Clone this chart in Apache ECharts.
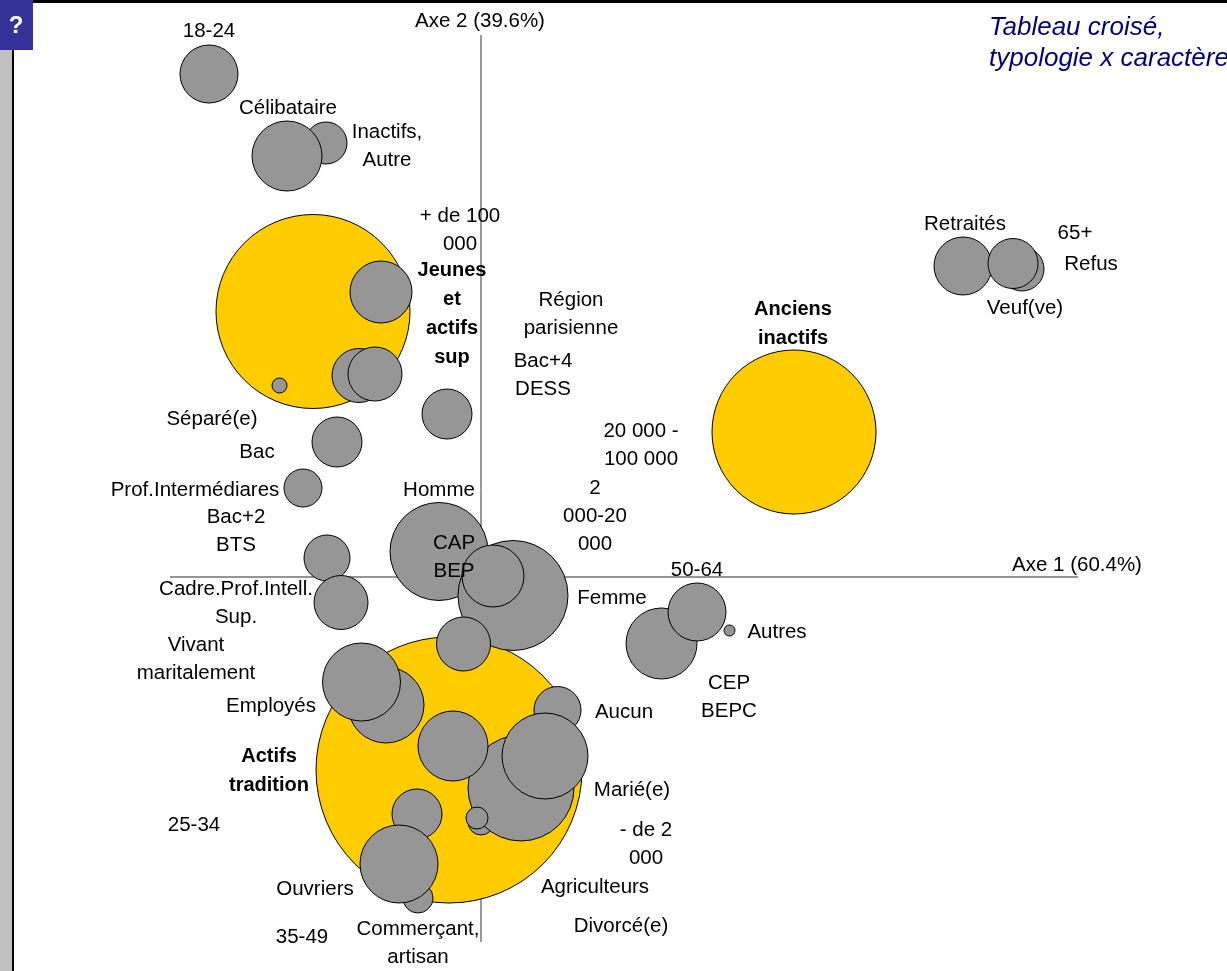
<!DOCTYPE html>
<html>
<head>
<meta charset="utf-8">
<script src="https://cdn.jsdelivr.net/npm/echarts@6/dist/echarts.min.js"></script>
<style>
html, body { margin: 0; padding: 0; background: #fff; }
#chart { width: 1227px; height: 971px; }
</style>
</head>
<body>
<div id="chart"></div>
<script>
// bornes du repère (unités du plan factoriel)
var xMin = -4.81, xMax = 7.46;
var yMin = -3.94, yMax = 5.77;
var axe1Extent = [-3.11, 5.97];
var axe2Extent = [-3.65, 5.42];

// typologie (cercles jaunes) : x, y, rayon
var typeNames = ['Jeunes\net\nactifs\nsup', 'Anciens\ninactifs', 'Actifs\ntradition'];
var typeX = [-1.68, 3.13, -0.32];
var typeY = [2.655, 1.45, -1.93];
var typeR = [0.97, 0.82, 1.33];
var typeLabelX = [-0.29, 3.12, -2.12];
var typeLabelY = [2.63, 2.53, -1.94];

// modalités (cercles gris), dans l'ordre de dessin
var modX = [-2.72, -1.55, -1.94, -1.00, -1.22, -1.06, -2.015, -0.34, -1.44, -1.78, -1.54, -1.40,
            -0.42, 0.32, 0.12, -0.175, 1.805, 2.16, 2.485, 4.82, 5.41, 5.32,
            -0.95, -1.195, 0.765, 0.00, 0.40, 0.64, -0.04, -0.28, -0.64, -0.63, -0.82];
var modY = [5.03, 4.34, 4.21, 2.85, 2.015, 2.03, 1.915, 1.63, 1.35, 0.89, 0.19, -0.255,
            0.255, -0.185, 0.01, -0.67, -0.665, -0.35, -0.535, 3.11, 3.08, 3.135,
            -1.28, -1.05, -1.33, -2.45, -2.11, -1.79, -2.41, -1.69, -2.37, -3.21, -2.87];
var modR = [0.29, 0.21, 0.35, 0.31, 0.27, 0.27, 0.075, 0.25, 0.25, 0.19, 0.23, 0.27,
            0.49, 0.55, 0.31, 0.27, 0.355, 0.29, 0.055, 0.29, 0.22, 0.25,
            0.38, 0.39, 0.235, 0.13, 0.53, 0.43, 0.11, 0.35, 0.25, 0.15, 0.39];

// étiquettes des modalités
var labelNames = ['18-24', 'Célibataire', 'Inactifs,\nAutre', '+ de 100\n000', 'Région\nparisienne',
                  'Bac+4\nDESS', 'Retraités', '65+', 'Refus', 'Veuf(ve)', 'Séparé(e)', 'Bac',
                  '20 000 -\n100 000', 'Prof.Intermédiares', 'Homme', '2\n000-20\n000', 'Bac+2\nBTS',
                  'CAP\nBEP', '50-64', 'Cadre.Prof.Intell.\nSup.', 'Femme', 'Autres',
                  'Vivant\nmaritalement', 'CEP\nBEPC', 'Employés', 'Aucun', 'Marié(e)', '25-34',
                  '- de 2\n000', 'Ouvriers', 'Agriculteurs', '35-49', 'Commerçant,\nartisan', 'Divorcé(e)'];
var labelX = [-2.72, -1.93, -0.94, -0.21, 0.90, 0.62, 4.84, 5.94, 6.10, 5.44, -2.69, -2.24,
              1.60, -2.86, -0.42, 1.14, -2.45, -0.27, 2.16, -2.45, 1.31, 2.96,
              -2.85, 2.48, -2.10, 1.43, 1.51, -2.87, 1.65, -1.66, 1.14, -1.79, -0.63, 1.40];
var labelY = [5.46, 4.69, 4.31, 3.47, 2.63, 2.02, 3.53, 3.44, 3.13, 2.69, 1.58, 1.25,
              1.32, 0.87, 0.87, 0.61, 0.46, 0.20, 0.07, -0.26, -0.21, -0.55,
              -0.82, -1.20, -1.29, -1.35, -2.13, -2.48, -2.67, -3.12, -3.10, -3.60, -3.66, -3.49];

var axisNames = ['Axe 1 (60.4%)', 'Axe 2 (39.6%)'];
var axisLabelX = [5.96, -0.01];
var axisLabelY = [0.12, 5.56];

var chart = echarts.init(document.getElementById('chart'));
var pxPerUnit = 1227 / (xMax - xMin);
var font = 'Liberation Sans, Arial, sans-serif';

function zip3(a, b, c) {
	var out = [];
	for (var i = 0; i < a.length; i++) out.push([a[i], b[i], c[i]]);
	return out;
}
function textPoints(names, xs, ys) {
	var out = [];
	for (var i = 0; i < names.length; i++) out.push({name: names[i], value: [xs[i], ys[i]]});
	return out;
}
function textSeries(data, bold, lh) {
	return {
		type: 'scatter', data: data, symbolSize: 0, silent: true, z: 5,
		itemStyle: {color: '#000', opacity: 1},
		label: {
			show: true, position: [0, 0], formatter: '{b}', color: '#000', opacity: 1,
			textBorderWidth: 0, textShadowBlur: 0,
			fontFamily: font, fontSize: bold ? 20 : 20.5, fontWeight: bold ? 'bold' : 'normal',
			lineHeight: lh, align: 'center', verticalAlign: 'middle'
		},
		emphasis: {disabled: true}
	};
}

var option = {
	animation: false,
	grid: {left: 0, right: 0, top: 0, bottom: 0},
	xAxis: {type: 'value', min: xMin, max: xMax, show: false},
	yAxis: {type: 'value', min: yMin, max: yMax, show: false},
	title: {
		text: 'Tableau croisé,\ntypologie x caractères',
		left: 984, top: 7,
		textStyle: {fontFamily: font, fontSize: 26, fontStyle: 'italic', fontWeight: 'normal', color: '#000080', lineHeight: 31}
	},
	graphic: [
		{type: 'rect', shape: {x: 0, y: 0, width: 12, height: 971}, style: {fill: '#c0c0c0'}},
		{type: 'rect', shape: {x: 12, y: 0, width: 2, height: 971}, style: {fill: '#000'}},
		{type: 'rect', shape: {x: 0, y: 0, width: 1227, height: 3}, style: {fill: '#000'}},
		{type: 'rect', shape: {x: 0, y: 0, width: 33, height: 50}, style: {fill: '#333399'}},
		{type: 'text', x: 16, y: 26, style: {text: '?', fill: '#fff', font: 'bold 24px ' + font, align: 'center', verticalAlign: 'middle'}}
	],
	series: [
		{
			type: 'line', data: [[axe1Extent[0], 0], [axe1Extent[1], 0]], symbol: 'none', silent: true, z: 0,
			lineStyle: {color: '#707070', width: 1.5}
		},
		{
			type: 'line', data: [[0, axe2Extent[0]], [0, axe2Extent[1]]], symbol: 'none', silent: true, z: 0,
			lineStyle: {color: '#333', width: 1}
		},
		{
			type: 'scatter', data: zip3(typeX, typeY, typeR), silent: true, z: 2,
			symbolSize: function (v) { return v[2] * 2 * pxPerUnit; },
			itemStyle: {color: '#ffcc00', borderColor: '#000', borderWidth: 1, opacity: 1}
		},
		{
			type: 'scatter', data: zip3(modX, modY, modR), silent: true, z: 3,
			symbolSize: function (v) { return v[2] * 2 * pxPerUnit; },
			itemStyle: {color: '#969696', borderColor: '#000', borderWidth: 1, opacity: 1}
		},
		textSeries(textPoints(labelNames, labelX, labelY), false, 28),
		textSeries(textPoints(typeNames, typeLabelX, typeLabelY), true, 28.7),
		textSeries(textPoints(axisNames, axisLabelX, axisLabelY), false, 28)
	]
};
chart.setOption(option);
</script>
</body>
</html>
